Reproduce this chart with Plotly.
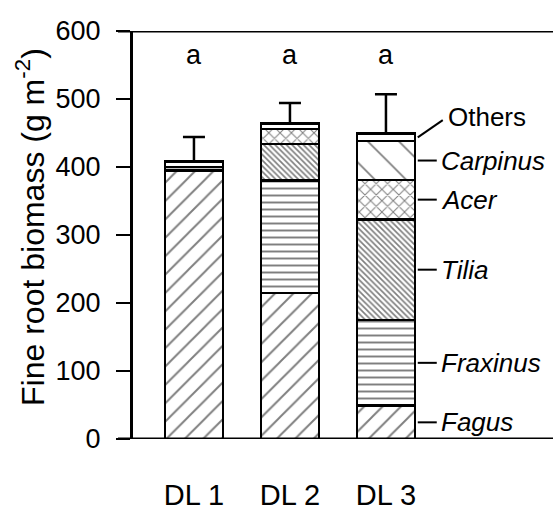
import plotly.graph_objects as go

# Fine root biomass by species in three diversity levels (g m-2)
plots = ["DL 1", "DL 2", "DL 3"]
fagus = [395, 215, 49]
fraxinus = [5, 165, 126]
tilia = [0, 54, 148]
acer = [0, 22, 58]
carpinus = [0, 0, 57]
others = [8, 8, 11]
se_upper = [36, 30, 58]
letters = ["a", "a", "a"]

species = [
    ("Fagus", fagus, "/", 13, 0.15),
    ("Fraxinus", fraxinus, "-", 7, 0.28),
    ("Tilia", tilia, "\\", 4, 0.42),
    ("Acer", acer, "x", 8, 0.24),
    ("Carpinus", carpinus, "\\", 22, 0.08),
    ("Others", others, "", 10, 0.1),
]

FONT = "Liberation Sans, Arial, sans-serif"
xpos = list(range(len(plots)))
BAR_W = 0.6
PX_PER_CAT = 96.0  # plot width 420 px across the x range below
X_MIN = -0.635
X_MAX = X_MIN + 420 / PX_PER_CAT

fig = go.Figure()
for name, vals, shape, size, solidity in species:
    pattern = dict(shape=shape, fgcolor="black", bgcolor="white",
                   size=size, solidity=solidity, fillmode="overlay")
    fig.add_trace(go.Bar(
        x=xpos, y=vals, name=name, width=BAR_W,
        marker=dict(color="white", line=dict(color="black", width=2.5),
                    pattern=pattern),
        showlegend=False,
    ))

totals = [sum(s[1][i] for s in species) for i in range(len(plots))]

# upward-only error bars at the top of each stacked column
fig.add_trace(go.Scatter(
    x=xpos, y=totals, mode="markers",
    marker=dict(size=1, color="rgba(0,0,0,0)"),
    error_y=dict(type="data", symmetric=False, array=se_upper,
                 arrayminus=[0] * len(plots), color="black",
                 thickness=2.5, width=11),
    showlegend=False, hoverinfo="skip",
))

annotations = []
shapes = []

# significance letters
for i, t in enumerate(letters):
    annotations.append(dict(x=xpos[i], y=565, xref="x", yref="y", text=t,
                            showarrow=False, font=dict(size=27, family=FONT, color="black"),
                            yanchor="middle"))

# species labels beside the DL 3 column
last = len(plots) - 1
bar_right = xpos[last] + BAR_W / 2
cum = 0
for name, vals, *_ in species:
    lo = cum
    cum += vals[last]
    mid = (lo + cum) / 2
    if name == "Others":
        label_y = 473
        shapes.append(dict(type="line", xref="x", yref="y",
                           x0=bar_right + 3 / PX_PER_CAT, y0=mid,
                           x1=bar_right + 28 / PX_PER_CAT, y1=label_y - 4,
                           line=dict(color="black", width=2)))
        annotations.append(dict(x=bar_right + 31 / PX_PER_CAT, y=label_y, xref="x", yref="y",
                                text=name, showarrow=False, xanchor="left", yanchor="middle",
                                font=dict(size=26, family=FONT, color="black")))
    else:
        shapes.append(dict(type="line", xref="x", yref="y",
                           x0=bar_right + 3 / PX_PER_CAT, y0=mid,
                           x1=bar_right + 22 / PX_PER_CAT, y1=mid,
                           line=dict(color="black", width=2)))
        annotations.append(dict(x=bar_right + 24 / PX_PER_CAT, y=mid, xref="x", yref="y",
                                text="<i>" + name + "</i>", showarrow=False,
                                xanchor="left", yanchor="middle",
                                font=dict(size=26, family=FONT, color="black")))

# frame lines at 0 and 600 running to the right edge
for yv in (0, 600):
    shapes.append(dict(type="line", xref="paper", yref="y",
                       x0=-15 / 420, x1=1, y0=yv, y1=yv,
                       line=dict(color="black", width=3)))

# y-axis title
annotations.append(dict(x=-0.245, y=0.52, xref="paper", yref="paper",
                        text="Fine root biomass (g m<sup>-2</sup>)",
                        textangle=-90, showarrow=False,
                        font=dict(size=32, family=FONT, color="black"),
                        xanchor="center", yanchor="middle"))

fig.update_layout(
    width=553, height=512,
    margin=dict(l=133, r=0, t=31, b=73),
    barmode="stack",
    plot_bgcolor="white", paper_bgcolor="white",
    font=dict(family=FONT, color="black"),
    annotations=annotations, shapes=shapes,
)
fig.update_xaxes(
    range=[X_MIN, X_MAX], tickmode="array", tickvals=xpos, ticktext=plots,
    showline=False, showgrid=False, zeroline=False, ticks="",
    tickfont=dict(size=29, family=FONT, color="black"),
    ticklabelstandoff=36,
)
fig.update_yaxes(
    range=[0, 600], tickmode="linear", tick0=0, dtick=100,
    showline=True, linecolor="black", linewidth=3,
    ticks="outside", ticklen=14, tickwidth=2, tickcolor="black",
    showgrid=False, zeroline=False,
    tickfont=dict(size=27, family=FONT, color="black"),
    ticklabelstandoff=10,
)

fig.write_html("out.html")
